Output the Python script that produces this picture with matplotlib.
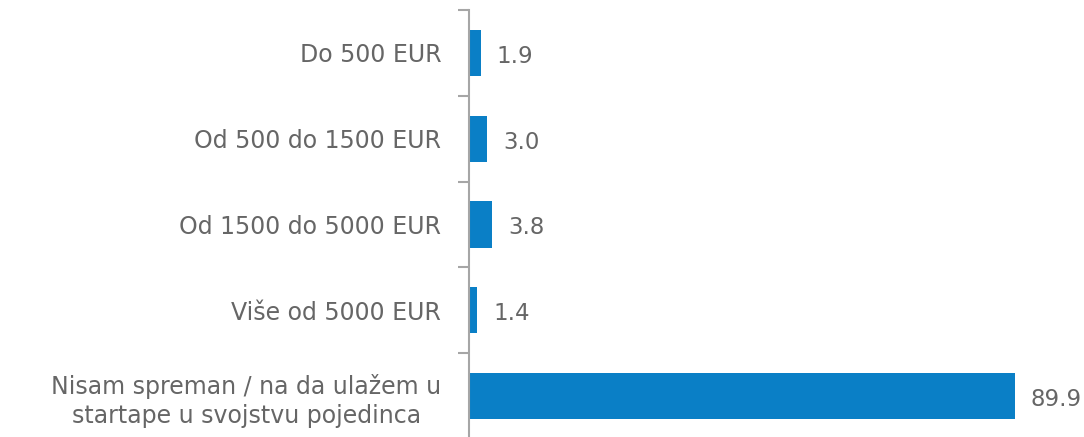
import matplotlib
matplotlib.use("Agg")
import matplotlib.pyplot as plt

categories = ["Do 500 EUR", "Od 500 do 1500 EUR", "Od 1500 do 5000 EUR",
              "Više od 5000 EUR",
              "Nisam spreman / na da ulažem u\nstartape u svojstvu pojedinca"]
values = [1.9, 3.0, 3.8, 1.4, 89.9]

plt.rcParams['font.family'] = ['DejaVu Sans']
text_color = "#666666"
bar_color = "#0a7fc6"

fig = plt.figure(figsize=(10.84, 4.37), dpi=100)
ax = fig.add_axes([469/1084, -2/437, 1 - 469/1084, 429/437])

n = len(categories)
ypos = list(range(n))
ax.barh(ypos, values, height=0.54, color=bar_color)
ax.set_ylim(n - 0.5, -0.5)
ax.set_xlim(0, 101.3)

for y, v in zip(ypos, values):
    ax.text(v + 2.6, y + 0.04, f"{v:.1f}", va="center", ha="left",
            fontsize=16.5, color=text_color)

ax.set_yticks(ypos)
ax.set_yticklabels(categories, fontsize=17, color=text_color, linespacing=1.25)
ax.set_yticks([i - 0.5 for i in range(n)], minor=True)
ax.tick_params(axis='y', which='major', length=0, pad=20)
ax.tick_params(axis='y', which='minor', length=8, width=1.5, color="#a6a6a6")
for lbl in ax.get_yticklabels():
    lbl.set_horizontalalignment('right')
    lbl.set_multialignment('center')

ax.set_xticks([])
for s in ["top", "right", "bottom"]:
    ax.spines[s].set_visible(False)
ax.spines["left"].set_color("#a6a6a6")
ax.spines["left"].set_linewidth(1.5)

fig.savefig("out.png", dpi=100)
